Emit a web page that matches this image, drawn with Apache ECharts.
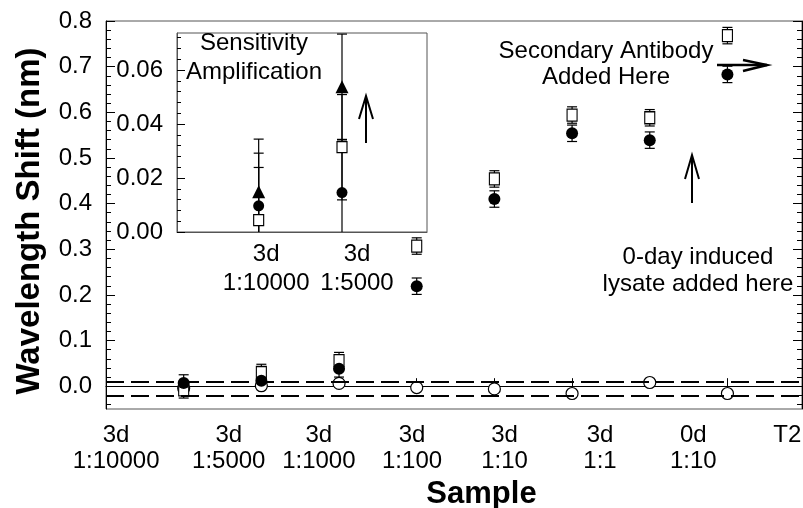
<!DOCTYPE html>
<html>
<head>
<meta charset="utf-8">
<script src="https://cdn.jsdelivr.net/npm/echarts@6/dist/echarts.min.js"></script>
<style>
  html, body { margin: 0; padding: 0; background: #fff; }
  #chart { width: 803px; height: 508px; }
</style>
</head>
<body>
<div id="chart"></div>
<script>
// main plot - sample positions on x
const samplePos = [1, 2, 3, 4, 5, 6, 7, 8];
const sampleLabels = ['3d\n1:10000', '3d\n1:5000', '3d\n1:1000', '3d\n1:100', '3d\n1:10', '3d\n1:1', '0d\n1:10', 'T2'];
const sampleLabelPos = [0.13, 1.58, 2.74, 3.94, 5.13, 6.36, 7.56, 8.77];
const filledShift = [0.007, 0.012, 0.038, 0.219, 0.410, 0.554, 0.539, 0.683];
const squareShift = [-0.008, 0.030, 0.056, 0.307, 0.454, 0.594, 0.588, 0.768];
const openShift = [-0.004, 0.001, 0.006, -0.003, -0.006, -0.016, 0.008, -0.016];
const shiftErr = 0.018;
const baselineBand = [0.006, -0.017];
const yTicks = [0, 0.1, 0.2, 0.3, 0.4, 0.5, 0.6, 0.7, 0.8];

// inset - sensitivity amplification
const insetPos = [1, 2];
const insetLabels = ['3d\n1:10000', '3d\n1:5000'];
const insetLabelPos = [1.09, 2.18];
const insetTriangle = [0.0149, 0.0538];
const insetFilled = [0.0097, 0.0146];
const insetSquare = [0.0044, 0.0314];
const insetErr = 0.0195;
const insetTicks = [0, 0.02, 0.04, 0.06];

const fontFamily = 'Arial, "Liberation Sans", sans-serif';
const black = '#000';

// minor ticks between the majors
const minorOf = (lo, hi, step) => {
  const out = [];
  for (let v = lo; v <= hi + 1e-9; v += step) out.push(+v.toFixed(4));
  return out;
};

// label text for a custom label position
const labelAt = (positions, labels) => v => {
  let best = 0;
  positions.forEach((p, i) => {
    if (Math.abs(p - v) < Math.abs(positions[best] - v)) best = i;
  });
  return labels[best];
};

const chart = echarts.init(document.getElementById('chart'));

function errorBars(xIdx, yIdx, xs, ys, err, name) {
  return {
    name,
    type: 'custom',
    xAxisIndex: xIdx,
    yAxisIndex: yIdx,
    silent: true,
    clip: true,
    data: xs.map((x, i) => [x, ys[i] - err, ys[i] + err]),
    renderItem: (params, api) => {
      const lo = api.coord([api.value(0), api.value(1)]);
      const hi = api.coord([api.value(0), api.value(2)]);
      const w = 5;
      const style = { stroke: black, lineWidth: 1.2 };
      return {
        type: 'group',
        children: [
          { type: 'line', shape: { x1: lo[0], y1: lo[1], x2: hi[0], y2: hi[1] }, style },
          { type: 'line', shape: { x1: lo[0] - w, y1: lo[1], x2: lo[0] + w, y2: lo[1] }, style },
          { type: 'line', shape: { x1: hi[0] - w, y1: hi[1], x2: hi[0] + w, y2: hi[1] }, style }
        ]
      };
    }
  };
}

function scatter(xIdx, yIdx, xs, ys, symbol, size, filled, name) {
  return {
    name,
    type: 'scatter',
    xAxisIndex: xIdx,
    yAxisIndex: yIdx,
    symbol,
    symbolSize: size,
    silent: true,
    data: xs.map((x, i) => [x, ys[i]]),
    itemStyle: {
      color: filled ? black : '#fff',
      borderColor: black,
      borderWidth: filled ? 0 : 1.2,
      opacity: 1
    }
  };
}

const tickLabel = { fontFamily, fontSize: 24, color: black };

const option = {
  animation: false,
  backgroundColor: '#fff',
  grid: [
    { left: 106, top: 21, width: 696, height: 388, outerBoundsMode: 'none', show: true, borderColor: '#555', borderWidth: 1 },
    { left: 177, top: 33, width: 250, height: 199, outerBoundsMode: 'none', show: true, borderColor: '#555', borderWidth: 1, backgroundColor: '#fff' }
  ],
  xAxis: [
    {
      gridIndex: 0, type: 'value', min: 0, max: 8.96,
      name: 'Sample', nameLocation: 'middle', nameGap: 55,
      nameTextStyle: { fontFamily, fontSize: 31, fontWeight: 'bold', color: black, padding: [0, 0, 0, 55] },
      axisLine: { lineStyle: { color: black, width: 1 } },
      axisTick: { inside: true, length: 8, customValues: samplePos, lineStyle: { color: black } },
      axisLabel: {
        ...tickLabel, margin: 13, lineHeight: 26,
        customValues: sampleLabelPos,
        formatter: labelAt(sampleLabelPos, sampleLabels)
      },
      splitLine: { show: false }
    },
    {
      gridIndex: 1, type: 'value', min: 0.02, max: 3.02,
      axisLine: { lineStyle: { color: '#555', width: 1 } },
      axisTick: { show: false },
      axisLabel: {
        ...tickLabel, margin: 8, lineHeight: 29,
        customValues: insetLabelPos,
        formatter: labelAt(insetLabelPos, insetLabels)
      },
      splitLine: { show: false }
    }
  ],
  yAxis: [
    {
      gridIndex: 0, type: 'value', min: -0.05, max: 0.8, position: 'left',
      name: 'Wavelength Shift (nm)', nameLocation: 'middle', nameGap: 60,
      nameTextStyle: { fontFamily, fontSize: 33, fontWeight: 'bold', color: black, padding: [0, 12, 0, 0] },
      axisLine: { show: true, lineStyle: { color: black, width: 1 } },
      axisTick: { inside: true, length: 9, customValues: yTicks, lineStyle: { color: black } },
      axisLabel: { ...tickLabel, margin: 14, customValues: yTicks, formatter: v => v.toFixed(1) },
      splitLine: { show: false }
    },
    {
      gridIndex: 0, type: 'value', min: -0.05, max: 0.8, position: 'left',
      axisLine: { show: false },
      axisTick: { inside: true, length: 5, customValues: minorOf(-0.04, 0.78, 0.02), lineStyle: { color: black } },
      axisLabel: { show: false },
      splitLine: { show: false }
    },
    {
      gridIndex: 0, type: 'value', min: -0.05, max: 0.8, position: 'right',
      axisLine: { show: true, lineStyle: { color: black, width: 1 } },
      axisTick: { inside: true, length: 9, customValues: yTicks, lineStyle: { color: black } },
      axisLabel: { show: false },
      splitLine: { show: false }
    },
    {
      gridIndex: 0, type: 'value', min: -0.05, max: 0.8, position: 'right',
      axisLine: { show: false },
      axisTick: { inside: true, length: 5, customValues: minorOf(-0.04, 0.78, 0.02), lineStyle: { color: black } },
      axisLabel: { show: false },
      splitLine: { show: false }
    },
    {
      gridIndex: 1, type: 'value', min: 0, max: 0.0737, position: 'left',
      axisLine: { show: true, lineStyle: { color: '#555', width: 1 } },
      axisTick: { inside: true, length: 8, customValues: insetTicks, lineStyle: { color: black } },
      axisLabel: { ...tickLabel, margin: 14, customValues: insetTicks, formatter: v => v.toFixed(2) },
      splitLine: { show: false }
    },
    {
      gridIndex: 1, type: 'value', min: 0, max: 0.0737, position: 'left',
      axisLine: { show: false },
      axisTick: { inside: true, length: 4, customValues: minorOf(0.004, 0.072, 0.004), lineStyle: { color: black } },
      axisLabel: { show: false },
      splitLine: { show: false }
    }
  ],
  series: [
    scatter(0, 0, samplePos, openShift, 'circle', 12, false, 'open'),
    {
      name: 'baseline',
      type: 'line',
      xAxisIndex: 0, yAxisIndex: 0,
      data: [],
      markLine: {
        silent: true,
        symbol: 'none',
        label: { show: false },
        lineStyle: { color: black, width: 2, type: [18, 7] },
        data: baselineBand.map(v => ({ yAxis: v }))
      }
    },
    errorBars(0, 0, samplePos, squareShift, shiftErr, 'squareErr'),
    scatter(0, 0, samplePos, squareShift, 'rect', [10, 12], false, 'square'),
    errorBars(0, 0, samplePos, filledShift, shiftErr, 'filledErr'),
    scatter(0, 0, samplePos, filledShift, 'circle', 12, true, 'filled'),

    errorBars(1, 4, insetPos, insetSquare, insetErr, 'insetSquareErr'),
    errorBars(1, 4, insetPos, insetFilled, insetErr, 'insetFilledErr'),
    errorBars(1, 4, insetPos, insetTriangle, insetErr, 'insetTriangleErr'),
    scatter(1, 4, insetPos, insetSquare, 'rect', [10, 11], false, 'insetSquare'),
    scatter(1, 4, insetPos, insetFilled, 'circle', 11, true, 'insetFilled'),
    scatter(1, 4, insetPos, insetTriangle, 'triangle', 13, true, 'insetTriangle')
  ],
  graphic: [
    {
      type: 'text', x: 254, y: 28.5, z: 100,
      style: { text: 'Sensitivity\nAmplification', fontFamily, fontSize: 24, fill: black, align: 'center', verticalAlign: 'top', lineHeight: 29 }
    },
    {
      type: 'text', x: 606, y: 38, z: 100,
      style: { text: 'Secondary Antibody\nAdded Here', fontFamily, fontSize: 24, fill: black, align: 'center', verticalAlign: 'top', lineHeight: 26 }
    },
    {
      type: 'text', x: 698, y: 243.5, z: 100,
      style: { text: '0-day induced\nlysate added here', fontFamily, fontSize: 24, fill: black, align: 'center', verticalAlign: 'top', lineHeight: 27 }
    },
    // arrows
    { type: 'polyline', z: 100, shape: { points: [[717, 65], [767, 65]] }, style: { stroke: black, lineWidth: 2.5, fill: null } },
    { type: 'polyline', z: 100, shape: { points: [[743, 60], [767, 65], [743, 71]] }, style: { stroke: black, lineWidth: 2.5, fill: null } },
    { type: 'polyline', z: 100, shape: { points: [[692, 203], [692, 155]] }, style: { stroke: black, lineWidth: 2, fill: null } },
    { type: 'polyline', z: 100, shape: { points: [[685, 179], [692, 155], [699, 179]] }, style: { stroke: black, lineWidth: 2, fill: null } },
    { type: 'polyline', z: 100, shape: { points: [[366, 143], [366, 96]] }, style: { stroke: black, lineWidth: 2, fill: null } },
    { type: 'polyline', z: 100, shape: { points: [[359, 119], [366, 96], [373, 119]] }, style: { stroke: black, lineWidth: 2, fill: null } }
  ]
};

chart.setOption(option);
</script>
</body>
</html>
